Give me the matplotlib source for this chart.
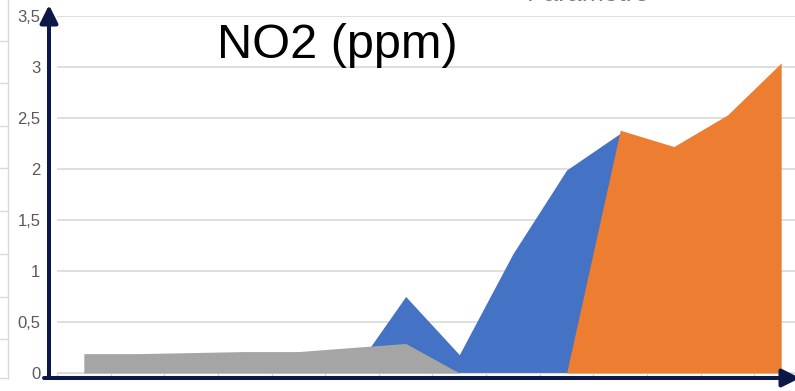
import matplotlib.pyplot as plt
from matplotlib.patches import FancyArrowPatch
from matplotlib.lines import Line2D

# NO2 readings per sampling point (ppm), three sites stacked as overlapping areas
points = list(range(14))
site_blue = [0, 0, 0, 0, 0, 0, 0.75, 0.18, 1.17, 1.99, 2.35, 0, 0, 0]
site_orange = [0, 0, 0, 0, 0, 0, 0, 0, 0, 0, 2.38, 2.22, 2.53, 3.04]
site_gray = [0.19, 0.19, 0.20, 0.21, 0.21, 0.25, 0.29, 0, 0, 0, 0, 0, 0, 0]
y_ticks = [0, 0.5, 1, 1.5, 2, 2.5, 3, 3.5]
y_labels = ["0", "0,5", "1", "1,5", "2", "2,5", "3", "3,5"]

W, H = 795, 391
fig = plt.figure(figsize=(W / 100, H / 100), dpi=100)
plt.rcParams['font.family'] = ['Liberation Sans', 'DejaVu Sans']


def px(x, y):
    return x / W, (H - y) / H


# plot area: category edges from x=57, 53.6 px per category; y 0 at 373, 3.5 at 16
ax = fig.add_axes([57 / W, (H - 373) / H, 751 / W, 357 / H])
ax.set_xlim(-0.5, 13.5)
ax.set_ylim(0, 3.5)

ax.fill_between(points, site_blue, color='#4472C4', lw=0, zorder=2)
ax.fill_between(points, site_orange, color='#ED7D31', lw=0, zorder=3)
ax.fill_between(points, site_gray, color='#A5A5A5', lw=0, zorder=4)

ax.set_yticks(y_ticks)
ax.set_yticklabels(y_labels, fontsize=12, color='#595959')
ax.tick_params(axis='y', length=0, pad=12)
ax.yaxis.grid(True, color='#d9d9d9', lw=1.2, zorder=0)
ax.set_axisbelow(True)

ax.set_xticks([i - 0.5 for i in range(15)])
ax.set_xticklabels([])
ax.tick_params(axis='x', length=4, width=1, color='#d9d9d9', direction='out')

for s in ['top', 'right', 'left']:
    ax.spines[s].set_visible(False)
ax.spines['bottom'].set_color('#d9d9d9')
ax.patch.set_alpha(0)

fig.text(*px(337, 58), "NO2 (ppm)", fontsize=35, ha='center', va='baseline',
         color='black')
fig.text(*px(588, 1), "Paramètre", fontsize=19, ha='center', va='baseline',
         color='#7f7f7f')

# frame of the neighbouring chart on the left edge
fig.add_artist(Line2D(*zip(px(8, 0), px(8, 378)), color='#d9d9d9', lw=1))
for yy in [41, 83, 126, 168, 211, 254, 297, 339, 378]:
    fig.add_artist(Line2D(*zip(px(0, yy), px(8, yy)), color='#d9d9d9', lw=1))

# hand-drawn axis arrows
navy = '#0c1848'
for start, end in [((49, 378), (49, 5)), ((44, 378), (800, 378))]:
    fig.add_artist(FancyArrowPatch(px(*start), px(*end), transform=fig.transFigure,
                                   arrowstyle='-|>,head_length=0.9,head_width=0.45',
                                   mutation_scale=12, lw=2.9, color=navy,
                                   shrinkA=0, shrinkB=0, zorder=10))

fig.savefig("out.png", dpi=100)
